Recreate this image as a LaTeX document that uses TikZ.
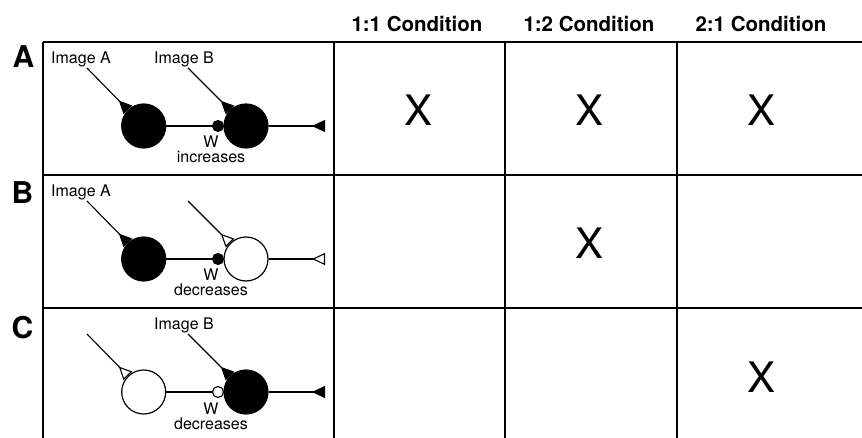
\documentclass[tikz,border=0pt]{standalone}
\usepackage{fontspec}
\setmainfont{TeX Gyre Heros}
\usetikzlibrary{arrows.meta}

\begin{document}
\begin{tikzpicture}[x=1pt,y=-1pt,
  grid/.style={line width=2.8pt},
  hdr/.style={font=\fontsize{20.5}{24}\selectfont\bfseries, inner sep=0pt},
  panelletter/.style={font=\fontsize{30}{34}\selectfont\bfseries, inner sep=0pt},
  xmark/.style={font=\fontsize{42}{48}\selectfont, inner sep=0pt},
  lbl/.style={font=\fontsize{16}{19}\selectfont, inner sep=0pt, anchor=base},
  cell/.style={circle, draw, line width=1.2pt, minimum size=44pt, inner sep=0pt},
  on/.style={fill=black},
  off/.style={fill=white},
  wdot/.style={circle, draw, line width=1.1pt, minimum size=11pt, inner sep=0pt},
  wire/.style={line width=1.1pt},
  exc/.style={wire, -{Triangle[reversed, length=13pt, width=12pt]}},
  exo/.style={wire, -{Triangle[reversed, open, fill=white, length=13pt, width=12pt, line width=1.1pt]}},
]
\useasboundingbox (0,0) rectangle (862,438);

% table rules
\draw[grid] (43,42) -- (862,42);
\draw[grid] (43,175) -- (862,175);
\draw[grid] (43,308) -- (862,308);
\draw[grid] (43,42) -- (43,438);
\draw[grid] (334,42) -- (334,438);
\draw[grid] (505,42) -- (505,438);
\draw[grid] (677,42) -- (677,438);

% column headings
\node[hdr] (h1) at (417,24) {1:1 Condition};
\node[hdr] (h2) at (589,24) {1:2 Condition};
\node[hdr] (h3) at (761,24) {2:1 Condition};

% row letters
\node[panelletter] (la) at (23.5,57) {A};
\node[panelletter] (lb) at (22.5,193) {B};
\node[panelletter] (lc) at (22.5,328) {C};

% marks
\node[xmark] (xa1) at (419,110) {X};
\node[xmark] (xa2) at (590,110) {X};
\node[xmark] (xa3) at (761,110) {X};
\node[xmark] (xb2) at (590,243) {X};
\node[xmark] (xc3) at (761,377) {X};

% panel A: both cells active, W increases
\begin{scope}[shift={(0,42)}]
  \node[lbl] (ta) at (81,21.5) {Image A};
  \node[lbl] (tb) at (184,21.5) {Image B};
  \node[cell,on] (a1) at (143.7,84) {};
  \node[cell,on] (a2) at (246,84) {};
  \node[wdot,on] (aw) at (218,84) {};
  \coordinate (ain1) at (87,26);
  \coordinate (ain2) at (188,26);
  \coordinate (aout) at (325,84);
  \draw[exc] (ain1) -- (a1);
  \draw[exc] (ain2) -- (a2);
  \draw[wire] (a1) -- (aw);
  \draw[wire] (aw) -- (a2);
  \draw[exc] (a2) -- (aout);
  \node[lbl] (awt) at (211,106) {W};
  \node[lbl] (awd) at (211,121) {increases};
\end{scope}

% panel B: first cell active, W decreases
\begin{scope}[shift={(0,175)}]
  \node[lbl] (tb1) at (81,21.5) {Image A};
  \node[cell,on] (b1) at (143.7,84) {};
  \node[cell,off] (b2) at (246,84) {};
  \node[wdot,on] (bw) at (218,84) {};
  \coordinate (bin1) at (87,26);
  \coordinate (bin2) at (188,26);
  \coordinate (bout) at (325,84);
  \draw[exc] (bin1) -- (b1);
  \draw[exo] (bin2) -- (b2);
  \draw[wire] (b1) -- (bw);
  \draw[wire] (bw) -- (b2);
  \draw[exo] (b2) -- (bout);
  \node[lbl] (bwt) at (211,106) {W};
  \node[lbl] (bwd) at (211,121) {decreases};
\end{scope}

% panel C: second cell active, W decreases
\begin{scope}[shift={(0,308)}]
  \node[lbl] (tc2) at (184,21.5) {Image B};
  \node[cell,off] (c1) at (143.7,84) {};
  \node[cell,on] (c2) at (246,84) {};
  \node[wdot,off] (cw) at (218,84) {};
  \coordinate (cin1) at (87,26);
  \coordinate (cin2) at (188,26);
  \coordinate (cout) at (325,84);
  \draw[exo] (cin1) -- (c1);
  \draw[exc] (cin2) -- (c2);
  \draw[wire] (c1) -- (cw);
  \draw[wire] (cw) -- (c2);
  \draw[exc] (c2) -- (cout);
  \node[lbl] (cwt) at (211,106) {W};
  \node[lbl] (cwd) at (211,121) {decreases};
\end{scope}
\end{tikzpicture}
\end{document}
